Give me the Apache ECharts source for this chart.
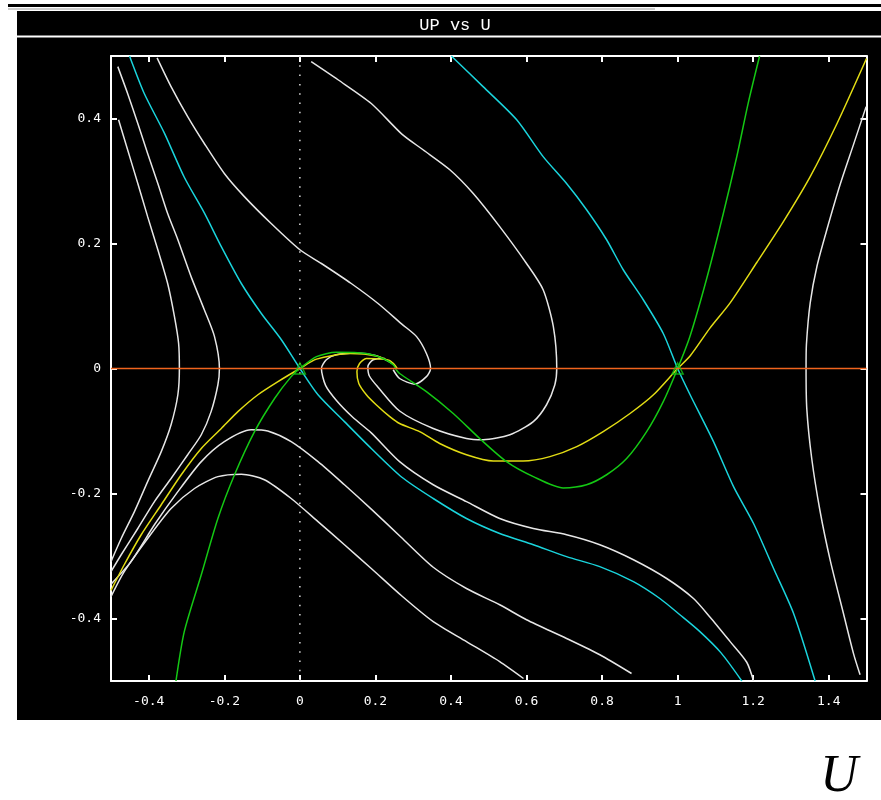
<!DOCTYPE html>
<html>
<head>
<meta charset="utf-8">
<script src="https://cdn.jsdelivr.net/npm/echarts@6/dist/echarts.min.js"></script>
<style>
html,body{margin:0;padding:0;background:#fff;}
#chart{width:881px;height:800px;}
</style>
</head>
<body>
<div id="chart"></div>
<script>
// ---- tick labels ----
const xTicks = [-0.4, -0.2, 0, 0.2, 0.4, 0.6, 0.8, 1, 1.2, 1.4];
const yTicks = [-0.4, -0.2, 0, 0.2, 0.4];
const titleText = 'UP vs U';
const axisName = 'U';

// ---- curves (U, UP) ----
const nullcline = [[-0.5, 0], [1.5, 0]];
const zeroLine = [[0, 0.5], [0, -0.5]];
const saddles = [[0, 0], [1, 0]];

const cyanA = [[-0.451,0.5],[-0.412,0.440],[-0.359,0.377],[-0.306,0.306],[-0.253,0.249],[-0.208,0.195],[-0.155,0.136],[-0.102,0.088],[-0.049,0.046],[0,0],[0.048,-0.042],[0.118,-0.085],[0.189,-0.128],[0.270,-0.174],[0.353,-0.208],[0.441,-0.240],[0.529,-0.264],[0.618,-0.282],[0.706,-0.301],[0.794,-0.317],[0.883,-0.341],[0.953,-0.368],[1.006,-0.394],[1.059,-0.421],[1.115,-0.455],[1.170,-0.5]];
const cyanB = [[0.401,0.5],[0.485,0.451],[0.574,0.398],[0.644,0.339],[0.706,0.296],[0.759,0.254],[0.812,0.206],[0.856,0.158],[0.909,0.110],[0.962,0.056],[1.0,0],[1.033,-0.042],[1.095,-0.117],[1.148,-0.189],[1.201,-0.248],[1.254,-0.320],[1.307,-0.392],[1.364,-0.5]];

const greenA = [[-0.328,-0.5],[-0.306,-0.421],[-0.261,-0.330],[-0.217,-0.240],[-0.173,-0.170],[-0.120,-0.101],[-0.067,-0.048],[-0.023,-0.013],[0,0],[0.044,0.019],[0.096,0.026],[0.176,0.024],[0.220,0.016],[0.247,0.006],[0.255,-0.002]];
const greenB = [[0.255,-0.002],[0.264,-0.008],[0.335,-0.037],[0.406,-0.072],[0.476,-0.112],[0.547,-0.149],[0.618,-0.173],[0.697,-0.191],[0.759,-0.186],[0.812,-0.170],[0.865,-0.144],[0.918,-0.101],[0.962,-0.053],[1.0,0],[1.033,0.052],[1.077,0.144],[1.121,0.248],[1.157,0.340],[1.187,0.425],[1.217,0.5]];

const yellowA = [[-0.5,-0.355],[-0.465,-0.314],[-0.420,-0.266],[-0.367,-0.218],[-0.314,-0.170],[-0.261,-0.128],[-0.208,-0.096],[-0.164,-0.069],[-0.111,-0.042],[-0.058,-0.021],[0,0],[0.044,0.015],[0.132,0.024],[0.202,0.020],[0.247,0.008],[0.257,0]];
const yellowB = [[0.257,0],[0.240,0.012],[0.220,0.015],[0.176,0.016],[0.158,0.008],[0.151,-0.005],[0.156,-0.024],[0.176,-0.042],[0.202,-0.058],[0.238,-0.077],[0.264,-0.088],[0.317,-0.101],[0.370,-0.120],[0.441,-0.138],[0.512,-0.148],[0.591,-0.148],[0.662,-0.141],[0.733,-0.125],[0.803,-0.101],[0.874,-0.072],[0.936,-0.042],[1.0,0],[1.033,0.020],[1.086,0.065],[1.139,0.105],[1.210,0.170],[1.280,0.235],[1.351,0.307],[1.422,0.392],[1.5,0.496]];

const whiteTop = [[-0.378,0.497],[-0.341,0.451],[-0.297,0.403],[-0.253,0.360],[-0.200,0.312],[-0.147,0.275],[-0.076,0.232],[0,0.190],[0.057,0.168],[0.136,0.136],[0.207,0.104],[0.270,0.071],[0.309,0.051],[0.335,0.024],[0.346,0],[0.335,-0.013],[0.304,-0.025],[0.264,-0.016],[0.247,-0.002]];
const whiteA = [[0.245,0.008],[0.200,0.021],[0.150,0.025],[0.096,0.022],[0.070,0.014],[0.057,0],[0.068,-0.027],[0.098,-0.052],[0.140,-0.078],[0.189,-0.103],[0.264,-0.149],[0.353,-0.186],[0.441,-0.213],[0.529,-0.240],[0.618,-0.256],[0.706,-0.266],[0.794,-0.282],[0.883,-0.306],[0.971,-0.336],[1.042,-0.368],[1.086,-0.398],[1.139,-0.437],[1.183,-0.470],[1.201,-0.5]];
const whiteB = [[0.225,0.016],[0.194,0.014],[0.180,0.003],[0.184,-0.012],[0.207,-0.030],[0.264,-0.068],[0.353,-0.096],[0.441,-0.112],[0.485,-0.114],[0.556,-0.106],[0.618,-0.085],[0.653,-0.058],[0.675,-0.026],[0.680,0],[0.671,0.067],[0.644,0.126],[0.600,0.168],[0.529,0.227],[0.459,0.280],[0.397,0.318],[0.326,0.350],[0.270,0.375],[0.189,0.424],[0.101,0.462],[0.030,0.491]];
const whiteC = [[-0.5,-0.345],[-0.447,-0.309],[-0.385,-0.250],[-0.323,-0.197],[-0.261,-0.149],[-0.200,-0.117],[-0.129,-0.098],[-0.085,-0.100],[-0.023,-0.117],[0.048,-0.149],[0.118,-0.186],[0.189,-0.225],[0.268,-0.270],[0.353,-0.318],[0.441,-0.352],[0.529,-0.378],[0.600,-0.402],[0.706,-0.432],[0.794,-0.458],[0.878,-0.488]];
const whiteD = [[-0.5,-0.365],[-0.465,-0.325],[-0.403,-0.272],[-0.341,-0.224],[-0.279,-0.192],[-0.217,-0.173],[-0.155,-0.169],[-0.094,-0.178],[-0.023,-0.208],[0.048,-0.245],[0.118,-0.282],[0.189,-0.320],[0.270,-0.364],[0.353,-0.405],[0.441,-0.437],[0.529,-0.469],[0.592,-0.496]];
const whiteL1 = [[-0.482,0.483],[-0.456,0.440],[-0.429,0.392],[-0.403,0.344],[-0.376,0.296],[-0.350,0.248],[-0.323,0.206],[-0.288,0.147],[-0.253,0.094],[-0.226,0.051],[-0.213,0],[-0.217,-0.026],[-0.235,-0.069],[-0.261,-0.106],[-0.297,-0.138],[-0.341,-0.176],[-0.385,-0.213],[-0.429,-0.256],[-0.473,-0.298],[-0.5,-0.325]];
const whiteL2 = [[-0.480,0.398],[-0.456,0.350],[-0.429,0.296],[-0.403,0.243],[-0.376,0.190],[-0.350,0.136],[-0.332,0.083],[-0.321,0.040],[-0.319,0],[-0.323,-0.042],[-0.341,-0.090],[-0.367,-0.133],[-0.403,-0.181],[-0.438,-0.229],[-0.473,-0.272],[-0.5,-0.309]];
const whiteR = [[1.499,0.419],[1.466,0.359],[1.430,0.294],[1.395,0.222],[1.369,0.164],[1.351,0.105],[1.341,0.039],[1.340,0],[1.342,-0.065],[1.355,-0.144],[1.377,-0.228],[1.404,-0.307],[1.439,-0.392],[1.466,-0.457],[1.483,-0.490]];

// ---- colours ----
const WHITE = '#e6e6e6', CYAN = '#1ad4dc', GREEN = '#14c814', YELLOW = '#e2dc14', ORANGE = '#f0641e';

function curve(data, color, z) {
  return {type:'line', data:data, showSymbol:false, symbol:'none', smooth:0.25,
          lineStyle:{color:color, width:1.5}, z:z||2, silent:true, clip:true};
}

const chart = echarts.init(document.getElementById('chart'), null, {renderer:'canvas'});
const fmt = v => String(Math.round(v*10)/10);
const axisCommon = {
  type:'value', splitLine:{show:false},
  axisLine:{show:true, onZero:false, lineStyle:{color:'#ffffff', width:2}},
};
chart.setOption({
  animation:false,
  backgroundColor:'#ffffff',
  graphic:[
    {type:'rect', shape:{x:8, y:4, width:873, height:3}, style:{fill:'#000'}, z:-20, silent:true},
    {type:'rect', shape:{x:8, y:8.5, width:647, height:1}, style:{fill:'#9a9a9a'}, z:-20, silent:true},
    {type:'rect', shape:{x:17, y:11, width:864, height:709}, style:{fill:'#000'}, z:-20, silent:true},
    {type:'line', shape:{x1:17, y1:36.5, x2:881, y2:36.5}, style:{stroke:'#ffffff', lineWidth:2}, z:-19, silent:true},
    {type:'text', style:{text:titleText, x:455, y:25, textAlign:'center', textVerticalAlign:'middle', fill:'#ffffff', font:'17px "Liberation Mono"'}, z:-19, silent:true},
    {type:'text', style:{text:axisName, x:839, y:777, textAlign:'center', textVerticalAlign:'middle', fill:'#000000', font:'italic 52px "Liberation Serif"'}, silent:true}
  ],
  grid:{left:111, top:56, width:755.5, height:625, outerBoundsMode:'none', containLabel:false},
  xAxis:[
    Object.assign({}, axisCommon, {position:'bottom', min:-0.5, max:1.5,
      axisTick:{show:true, inside:true, length:6, customValues:xTicks, lineStyle:{color:'#fff', width:2}},
      axisLabel:{show:true, customValues:xTicks, formatter:fmt, color:'#ffffff', fontFamily:'DejaVu Sans Mono', fontSize:13, margin:14}}),
    Object.assign({}, axisCommon, {position:'top', min:-0.5, max:1.5,
      axisTick:{show:true, inside:true, length:6, customValues:xTicks, lineStyle:{color:'#fff', width:2}},
      axisLabel:{show:false}})
  ],
  yAxis:[
    Object.assign({}, axisCommon, {position:'left', min:-0.5, max:0.5,
      axisTick:{show:true, inside:true, length:6, customValues:yTicks, lineStyle:{color:'#fff', width:2}},
      axisLabel:{show:true, customValues:yTicks, formatter:fmt, color:'#ffffff', fontFamily:'DejaVu Sans Mono', fontSize:13, margin:10}}),
    Object.assign({}, axisCommon, {position:'right', min:-0.5, max:0.5,
      axisTick:{show:true, inside:true, length:6, customValues:yTicks, lineStyle:{color:'#fff', width:2}},
      axisLabel:{show:false}})
  ],
  series:[
    {type:'line', data:zeroLine, showSymbol:false, symbol:'none', lineStyle:{color:'#d8d8d8', width:1.5, type:[1.5,7.8]}, z:1, silent:true},
    curve(whiteL1, WHITE), curve(whiteL2, WHITE), curve(whiteTop, WHITE), curve(whiteA, WHITE),
    curve(whiteB, WHITE), curve(whiteC, WHITE), curve(whiteD, WHITE), curve(whiteR, WHITE),
    curve(cyanA, CYAN, 3), curve(cyanB, CYAN, 3),
    curve(yellowA, YELLOW, 4), curve(yellowB, YELLOW, 4),
    curve(greenA, GREEN, 5), curve(greenB, GREEN, 5),
    curve(nullcline, ORANGE, 6),
    {type:'scatter', data:saddles, symbol:'triangle', symbolSize:11, silent:true, z:7,
     itemStyle:{color:'rgba(0,0,0,0)', borderColor:GREEN, borderWidth:1.5}}
  ]
});
</script>
</body>
</html>
